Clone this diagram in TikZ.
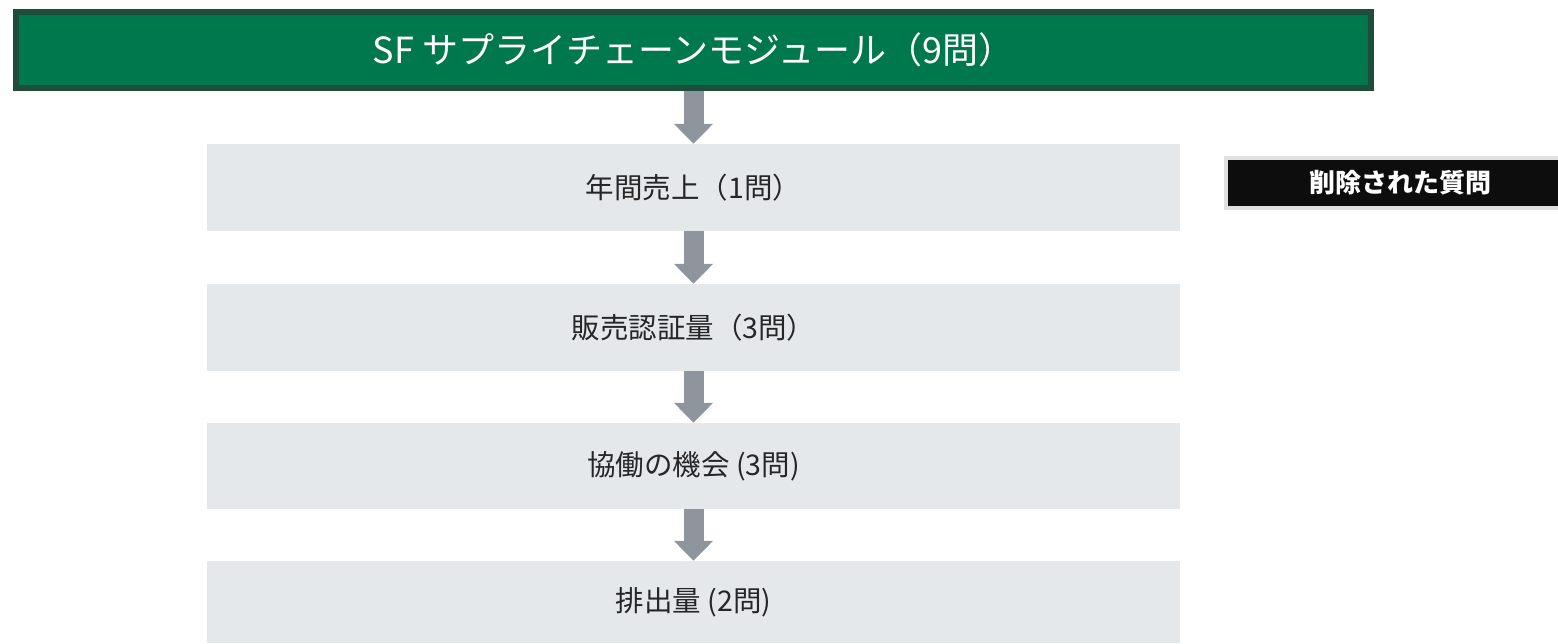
\documentclass[tikz,border=0pt]{standalone}
\usepackage{fontspec}
\setmainfont{Noto Sans CJK JP}
\usetikzlibrary{arrows.meta}

\definecolor{sfgreen}{RGB}{0,120,78}
\definecolor{sfgreendark}{RGB}{31,77,60}
\definecolor{boxgray}{RGB}{229,232,235}
\definecolor{arrowgray}{RGB}{142,149,156}
\definecolor{delgray}{RGB}{224,224,224}
\definecolor{delblack}{RGB}{13,13,13}

\tikzset{   titlebox/.style={draw=sfgreendark,fill=sfgreen,line width=6pt,minimum width=1355pt,minimum height=76pt,text=white,font=\fontsize{36}{40}\selectfont,inner sep=0pt},
            stepbox/.style={fill=boxgray,minimum width=973pt,minimum height=87pt,text=black!85,font=\fontsize{28.5}{32}\selectfont,inner sep=0pt},
            delbox/.style={draw=delgray,fill=delblack,line width=4pt,minimum width=336pt,minimum height=50pt,text=white,font=\fontsize{26}{30}\selectfont\bfseries,inner sep=0pt},
            flowarrow/.style={draw=arrowgray,line width=20pt,-{Triangle[width=38pt,length=20pt]}},
}

\begin{document}
\begin{tikzpicture}[x=1pt,y=-1pt]
    \useasboundingbox (0,0) rectangle (1558,643);

    \node[titlebox] (title) at (693.5,50) {SF サプライチェーンモジュール（9問）}; % header

    \node[stepbox] (sales) at (693.5,187.5) {年間売上（1問）};  % steps
    \node[stepbox] (cert) at (693.5,327.5) {販売認証量（3問）};
    \node[stepbox,minimum height=86pt] (collab) at (693.5,466) {協働の機会 (3問)};
    \node[stepbox,minimum height=82pt] (emis) at (693.5,602) {排出量 (2問)};

    \node[delbox] (deleted) at (1394,183) {\hspace*{12pt}削除された質問}; % side label

    \draw[flowarrow] (title) -- (sales); % arrows
    \draw[flowarrow] (sales) -- (cert);
    \draw[flowarrow] (cert) -- (collab);
    \draw[flowarrow] (collab) -- (emis);
\end{tikzpicture}
\end{document}
